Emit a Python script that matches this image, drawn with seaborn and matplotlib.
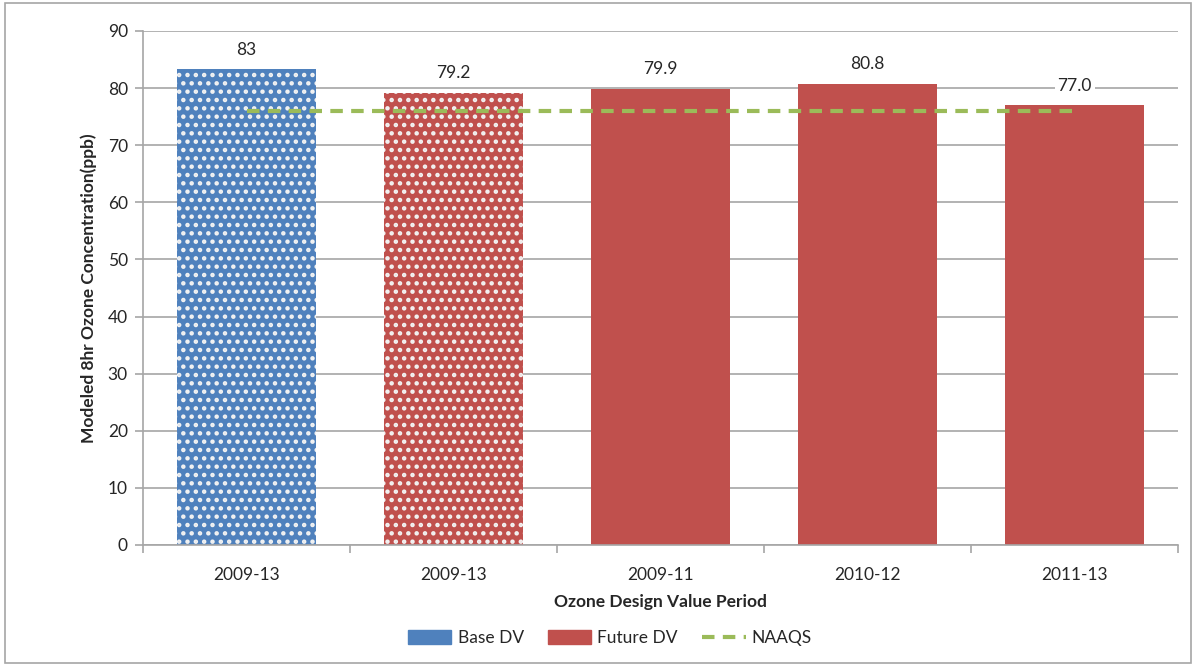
import pandas as pd
import seaborn as sns
import matplotlib.pyplot as plt
from matplotlib.patches import Patch, Rectangle
from matplotlib.lines import Line2D

# Données du graphique
periods = ["2009-13", "2009-13", "2009-11", "2010-12", "2011-13"]
values = [83.3, 79.2, 79.9, 80.8, 77.0]
value_labels = ["83", "79.2", "79.9", "80.8", "77.0"]
series = ["Base DV", "Future DV", "Future DV", "Future DV", "Future DV"]
naaqs = [76, 76, 76, 76, 76]

df = pd.DataFrame({"pos": range(len(periods)), "value": values, "series": series})

sns.set_theme(style="white")
plt.rcParams["font.family"] = ["Lato", "DejaVu Sans"]
plt.rcParams["hatch.linewidth"] = 2.0

colors = {"Base DV": "#4F81BD", "Future DV": "#C0504D"}
green = "#9BBB59"
fs = 12.5

fig = plt.figure(figsize=(11.96, 6.66), dpi=100)
ax = fig.add_axes([0.1196, 0.1817, 0.8654, 0.7718])

sns.barplot(data=df, x="pos", y="value", hue="series", palette=colors,
            dodge=False, width=0.67, saturation=1, legend=False, ax=ax, zorder=2)

# motif pointillé sur les deux premières barres
for i, p in enumerate(sorted(ax.patches, key=lambda r: r.get_x())):
    if i < 2:
        p.set_hatch("..")
        p.set_edgecolor("#F2F2F2")
        p.set_linewidth(0)
    else:
        p.set_edgecolor("none")

sns.lineplot(x=list(range(len(periods))), y=naaqs, color=green, lw=3,
             linestyle=(0, (3, 2)), ax=ax, zorder=3)

for i, (v, lab) in enumerate(zip(values, value_labels)):
    ax.text(i, v + 2.0, lab, ha="center", va="bottom", fontsize=fs,
            bbox=dict(facecolor="white", edgecolor="none", pad=2), zorder=4)

ax.set_ylim(0, 90)
ax.set_xlim(-0.5, len(periods) - 0.5)
ax.set_yticks(range(0, 91, 10))
ax.yaxis.grid(True, color="#A6A6A6", lw=1.2, zorder=0)
ax.set_axisbelow(True)

ax.set_xticks([i - 0.5 for i in range(len(periods) + 1)])
ax.set_xticklabels([])
ax.set_xticks(range(len(periods)), minor=True)
ax.set_xticklabels(periods, minor=True)
ax.tick_params(axis="x", which="major", length=6, color="#A6A6A6", width=1.2, direction="out", bottom=True)
ax.tick_params(axis="x", which="minor", length=0, labelsize=fs, pad=16)
ax.tick_params(axis="y", length=6, color="#A6A6A6", width=1.2, direction="out", left=True, labelsize=fs, pad=5)

for s in ["top", "right"]:
    ax.spines[s].set_visible(False)
for s in ["left", "bottom"]:
    ax.spines[s].set_color("#A6A6A6")
    ax.spines[s].set_linewidth(1.2)

ax.set_xlabel("Ozone Design Value Period", fontsize=fs, fontweight="bold", labelpad=8)
ax.set_ylabel("Modeled 8hr Ozone Concentration(ppb)", fontsize=fs, fontweight="bold", labelpad=8)

handles = [Patch(color=colors["Base DV"], label="Base DV"),
           Patch(color=colors["Future DV"], label="Future DV"),
           Line2D([], [], color=green, lw=3, linestyle=(0, (3, 2)), label="NAAQS")]
fig.legend(handles=handles, loc="center", bbox_to_anchor=(0.51, 0.042), ncol=3,
           frameon=False, fontsize=fs, handlelength=2.5, handleheight=0.9,
           columnspacing=1.4, handletextpad=0.35)

fig.patches.append(Rectangle((0.004, 0.004), 0.992, 0.992, transform=fig.transFigure,
                             fill=False, edgecolor="#A6A6A6", lw=1.2))

fig.savefig("out.png", dpi=100)
